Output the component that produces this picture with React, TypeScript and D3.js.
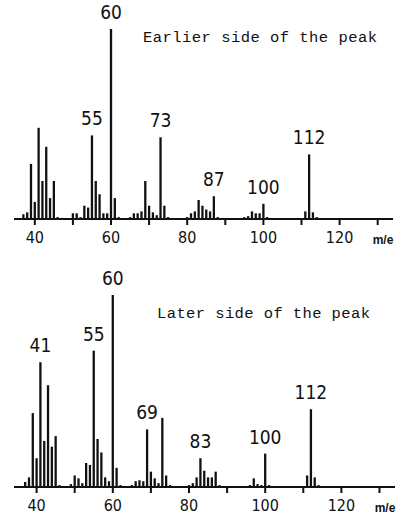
import React from 'react';
import * as d3 from 'd3';

// relative intensities (% of base peak m/e 60)
const earlierMz = [37, 38, 39, 40, 41, 42, 43, 44, 45, 46,
  50, 51, 52, 53, 54, 55, 56, 57, 58, 59, 60, 61, 62,
  65, 66, 67, 68, 69, 70, 71, 72, 73, 74, 75,
  80, 81, 82, 83, 84, 85, 86, 87, 88,
  95, 96, 97, 98, 99, 100, 101,
  111, 112, 113, 114];
const earlierPct = [2.5, 3.5, 29, 9, 48, 20, 38, 11, 20, 1,
  3, 3, 1, 7, 6, 44, 20, 13, 3, 3, 100, 11, 1,
  1, 3, 3, 4, 20, 7, 3.5, 2, 43, 7, 1,
  1, 3, 4, 10, 7, 5, 4, 12, 1,
  1, 1.5, 4, 3, 3, 8, 1,
  4, 34, 3.5, 1];
const earlierPeaks = [55, 60, 73, 87, 100, 112];

const laterMz = [37, 38, 39, 40, 41, 42, 43, 44, 45, 46,
  49, 50, 51, 52, 53, 54, 55, 56, 57, 58, 59, 60, 61, 62,
  65, 66, 67, 68, 69, 70, 71, 72, 73, 74, 75,
  80, 81, 82, 83, 84, 85, 86, 87, 88,
  96, 97, 98, 99, 100, 101,
  111, 112, 113, 114];
const laterPct = [2.6, 5, 38.5, 15, 65, 24, 53, 21, 26.5, 1,
  1.5, 6, 4.5, 2, 12.5, 11.5, 71, 25, 18, 5, 3, 100, 10, 1,
  1, 3, 3.5, 3, 30, 8, 4.5, 2, 36, 6, 1,
  1, 2, 5, 15, 8.5, 5, 5, 8, 1,
  1, 4.5, 1.5, 1, 17.4, 1,
  6, 40.5, 5, 1];
const laterPeaks = [41, 55, 60, 69, 83, 100, 112];

const tickValues = [40, 50, 60, 70, 80, 90, 100, 110, 120, 130];
const tickLabels = [40, 60, 80, 100, 120];

const W = 397;
const H = 517;
const narrow = 'Liberation Sans Narrow, DejaVu Sans Condensed, Arial Narrow, sans-serif';

function Spectrum({ mz, pct, peaks, title, base, top, x0, x1, axisEnd, titleX, titleY, titleW }) {
  const x = d3.scaleLinear().domain([40, 130]).range([x0, x1]);
  const y = d3.scaleLinear().domain([0, 100]).range([base, top]);
  const ink = '#111';
  return (
    <g>
      <line x1={14} x2={axisEnd} y1={base} y2={base} stroke={ink} strokeWidth={2} />
      {tickValues.map(t => (
        <line key={t} x1={x(t)} x2={x(t)} y1={base} y2={base + 6} stroke={ink} strokeWidth={2} />
      ))}
      {tickLabels.map(t => (
        <text key={t} x={x(t)} y={base + 24} textAnchor="middle"
          fontFamily={narrow} fontSize={16} fill={ink}>{t}</text>
      ))}
      <text x={axisEnd - 10} y={base + 25} textAnchor="middle"
        fontFamily="Liberation Sans, Arial, sans-serif" fontSize={12} fontWeight="bold" fill={ink}>m/e</text>
      {mz.map((m, i) => (
        <line key={m} x1={x(m)} x2={x(m)} y1={base} y2={y(pct[i])} stroke={ink} strokeWidth={2.3} />
      ))}
      {peaks.map(p => {
        const v = pct[mz.indexOf(p)];
        return (
          <text key={p} x={x(p)} y={y(v) - 10} textAnchor="middle"
            fontFamily={narrow} fontSize={19} fill={ink}>{p}</text>
        );
      })}
      <text x={titleX} y={titleY} textLength={titleW} lengthAdjust="spacing"
        fontFamily="Liberation Mono, DejaVu Sans Mono, monospace" fontSize={15.5} fill={ink}>{title}</text>
    </g>
  );
}

export default function App() {
  return (
    <svg width={W} height={H} style={{ position: 'absolute', left: 0, top: 0, background: '#fff' }}>
      <rect width={W} height={H} fill="#fff" />
      <Spectrum mz={earlierMz} pct={earlierPct} peaks={earlierPeaks}
        title="Earlier side of the peak" base={219} top={29} x0={34.8} x1={377.7} axisEnd={393}
        titleX={143} titleY={42} titleW={234} />
      <Spectrum mz={laterMz} pct={laterPct} peaks={laterPeaks}
        title="Later side of the peak" base={487} top={295} x0={36.6} x1={379.5} axisEnd={395}
        titleX={157} titleY={318} titleW={213} />
    </svg>
  );
}
